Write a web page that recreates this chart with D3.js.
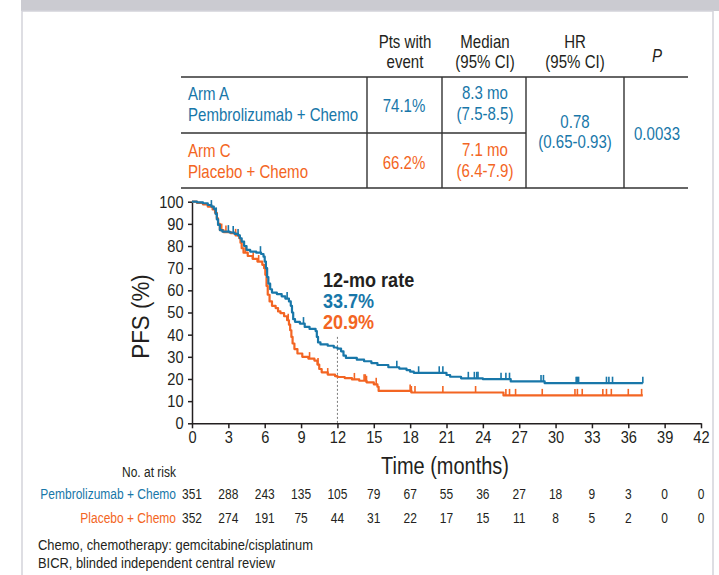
<!DOCTYPE html>
<html>
<head>
<meta charset="utf-8">
<script src="https://cdn.jsdelivr.net/npm/d3@7"></script>
<style>
  html, body { margin: 0; padding: 0; background: #fff; }
  svg { display: block; }
  text { font-family: "Liberation Sans", Arial, Helvetica, sans-serif; }
</style>
</head>
<body>
<svg id="chart" width="719" height="575"></svg>
<script>
// ---- Data -------------------------------------------------------------
const months = [0, 3, 6, 9, 12, 15, 18, 21, 24, 27, 30, 33, 36, 39, 42];
const pfsTicks = [0, 10, 20, 30, 40, 50, 60, 70, 80, 90, 100];

const armLabels = ["Pembrolizumab + Chemo", "Placebo + Chemo"];
const armTitles = ["Arm A", "Arm C"];
const ptsWithEvent = ["74.1%", "66.2%"];
const medianPFS = ["8.3 mo", "7.1 mo"];
const medianCI = ["(7.5-8.5)", "(6.4-7.9)"];
const hazardRatio = ["0.78", "(0.65-0.93)"];
const pValue = "0.0033";
const rate12mo = [33.7, 20.9];

const pembroAtRisk = [351, 288, 243, 135, 105, 79, 67, 55, 36, 27, 18, 9, 3, 0, 0];
const placeboAtRisk = [352, 274, 191, 75, 44, 31, 22, 17, 15, 11, 8, 5, 2, 0, 0];

// Kaplan-Meier steps: [month, PFS %]
const pembroKM = [
  [0,100],[0.4,99.7],[0.9,99.3],[1.3,98.5],[1.6,97.8],[1.8,96.8],[1.95,94.5],[2.05,92],
  [2.15,89.5],[2.3,87.2],[2.5,86.5],[3.1,86.1],[3.5,85.5],[3.8,84.8],[3.95,83.5],[4.1,82],
  [4.3,80],[4.5,78.3],[4.8,77.5],[5.3,77],[5.7,76.4],[5.9,75.2],[6.0,73],[6.1,70],
  [6.2,66],[6.3,63],[6.45,60.5],[6.6,59],[7.0,58.3],[7.4,57.3],[7.7,56.3],[8.0,55],
  [8.15,53],[8.25,50],[8.35,47],[8.5,45.8],[8.9,45],[9.3,43.5],[9.7,42.6],[10.2,41.6],
  [10.3,39],[10.4,36.5],[10.6,35.6],[11.2,35],[11.7,34.2],[12.0,33.7],[12.3,32.5],
  [12.5,30.5],[12.7,29.5],[13.6,28.7],[14.2,28],[14.8,27.2],[15.3,26.3],[16.2,25.3],
  [17.1,24.7],[17.7,24],[18.0,23.3],[18.3,22.8],[21.0,21.8],[21.3,21.0],[22.2,20.3],
  [24.0,19.9],[26.3,18.9],[29.1,18.1],[37.2,18.1]
];
const placeboKM = [
  [0,100],[0.4,99.5],[0.9,98.8],[1.3,97.8],[1.7,96.5],[1.9,95],[2.05,92.5],[2.15,90],
  [2.3,87.2],[2.6,86.3],[3.2,85.8],[3.6,84.8],[3.9,83.5],[4.0,81.5],[4.1,79],[4.25,77],
  [4.6,75.5],[5.0,74.2],[5.4,73],[5.8,71.5],[5.95,70],[6.05,67],[6.15,62],[6.25,58],
  [6.4,55],[6.6,53],[6.9,52],[7.1,50.5],[7.3,49.7],[7.6,48.3],[7.85,46.5],[8.0,44.5],
  [8.1,42],[8.2,39],[8.3,36],[8.45,33.5],[8.7,31.5],[9.1,30],[9.6,29.2],[10.1,28.3],
  [10.35,26.5],[10.5,24.5],[10.7,23],[11.2,22],[11.8,21.3],[12.0,20.9],[12.6,20.4],
  [13.2,19.8],[13.8,19.2],[14.4,18.5],[15.0,17.6],[15.3,16.5],[15.4,14.6],[18.1,13.9],
  [25.7,12.6],[37.2,12.6]
];

// Censored observations (months)
const pembroCensored = [1.6, 2.0, 3.0, 3.4, 3.8, 5.65, 7.85, 9.2, 16.9, 18.7, 20.4, 20.7,
  22.8, 23.3, 23.5, 23.6, 25.5, 25.9, 26.2, 28.8, 29.0, 31.7, 31.8, 31.9, 34.2, 34.4, 34.7, 37.2];
const placeboCensored = [2.45, 2.8, 3.6, 4.4, 5.05, 5.5, 7.94, 9.7, 10.4, 11.2, 13.4, 14.2,
  14.3, 14.4, 15.2, 18.0, 18.1, 18.4, 20.7, 23.4, 25.9, 26.2, 26.7, 28.9, 31.6, 31.8, 32.2,
  33.9, 34.2, 34.6, 36.0, 37.1];

// ---- Styling ----------------------------------------------------------
const BLUE = "#1877a9";
const ORANGE = "#f36523";
const INK = "#231f20";

const svg = d3.select("#chart");

// Condensed text: horizontally squeezed glyphs around the anchor point
function cText(parent, x, y, str, o) {
  const g = parent.append("g").attr("transform", `translate(${x},${y}) scale(${o.sx},1)`);
  const t = g.append("text").attr("text-anchor", o.anchor || "start")
    .attr("font-size", o.size).attr("fill", o.fill || INK).text(str);
  if (o.weight) t.attr("font-weight", o.weight);
  if (o.italic) t.attr("font-style", "italic");
  return t;
}

// page frame: grey band and bordered white panel
svg.append("rect").attr("x", 21).attr("y", 0).attr("width", 698).attr("height", 11).attr("fill", "#cbcbd1");
svg.append("rect").attr("x", 22).attr("y", 11).attr("width", 691).attr("height", 570)
  .attr("fill", "#fff").attr("stroke", "#d3d3da").attr("stroke-width", 1.5);

// ---- Summary table ----------------------------------------------------
const tbl = svg.append("g").attr("class", "summary-table");
const T = { size: 17.5, sx: 0.86 };
const lineColor = "#333";
const hl = [[77, 181, 688], [133, 181, 526], [188, 181, 688]];
hl.forEach(([yy, x1, x2]) => tbl.append("line").attr("x1", x1).attr("x2", x2).attr("y1", yy).attr("y2", yy)
  .attr("stroke", lineColor).attr("stroke-width", 1.4));
[367, 442, 526, 624].forEach(xx => tbl.append("line").attr("x1", xx).attr("x2", xx).attr("y1", 77).attr("y2", 188)
  .attr("stroke", lineColor).attr("stroke-width", 1.4));

function tText(x, y, str, color, anchor = "middle", italic = false) {
  return cText(tbl, x, y, str, { size: T.size, sx: T.sx, anchor, fill: color, italic });
}
// header
tText(405, 48, "Pts with", INK); tText(405, 68, "event", INK);
tText(485, 48, "Median", INK); tText(485, 68, "(95% CI)", INK);
tText(575, 48, "HR", INK); tText(575, 68, "(95% CI)", INK);
tText(657, 62, "P", INK, "middle", true);
// arm rows
const rowColors = [BLUE, ORANGE];
const rowBase = [100, 157];
rowColors.forEach((c, i) => {
  const b = rowBase[i];
  tText(188, b, armTitles[i], c, "start");
  tText(188, b + 21, armLabels[i], c, "start");
  tText(404, b + 12, ptsWithEvent[i], c);
  tText(485, b - 1, medianPFS[i], c);
  tText(485, b + 20, medianCI[i], c);
});
tText(575, 128, hazardRatio[0], BLUE);
tText(575, 148, hazardRatio[1], BLUE);
tText(657, 140, pValue, BLUE);

// ---- Plot -------------------------------------------------------------
const x = d3.scaleLinear().domain([0, 42]).range([192, 701]);
const y = d3.scaleLinear().domain([0, 100]).range([423.3, 201.7]);

const AX = { size: 17, sx: 0.86 };
const xAxis = svg.append("g").attr("transform", `translate(0,${y(0)})`)
  .call(d3.axisBottom(x).tickValues(months).tickSize(5).tickSizeOuter(0).tickPadding(3));
const yAxis = svg.append("g").attr("transform", `translate(${x(0)},0)`)
  .call(d3.axisLeft(y).tickValues(pfsTicks).tickSize(4).tickSizeOuter(0).tickPadding(3));
[xAxis, yAxis].forEach(a => {
  a.attr("font-family", null).attr("font-size", null);
  a.select(".domain").attr("stroke", INK).attr("stroke-width", 1.5);
  a.selectAll(".tick line").attr("stroke", INK).attr("stroke-width", 1.5);
  a.selectAll(".tick text").attr("fill", INK).attr("font-size", AX.size)
    .attr("transform", `scale(${AX.sx},1)`);
});
yAxis.selectAll(".tick text").attr("x", -8.5 / AX.sx);

// axis titles
cText(svg, 445, 474, "Time (months)", { size: 23.5, sx: 0.85, anchor: "middle" });
svg.append("g").attr("transform", `translate(149,${(y(0) + y(100)) / 2 + 4}) rotate(-90) scale(0.95,1)`)
  .append("text").attr("text-anchor", "middle").attr("font-size", 23.5).attr("fill", INK).text("PFS (%)");

// 12-month reference line
svg.append("line").attr("x1", x(12)).attr("x2", x(12)).attr("y1", y(39)).attr("y2", y(0))
  .attr("stroke", "#7a7a7a").attr("stroke-width", 1).attr("stroke-dasharray", "2,2");

// KM curves
const km = d3.line().x(d => x(d[0])).y(d => y(d[1])).curve(d3.curveStepAfter);
const bis = d3.bisector(d => d[0]).right;
function survAt(curve, t) { return curve[Math.max(0, bis(curve, t) - 1)][1]; }

function drawArm(curve, censored, color) {
  const g = svg.append("g");
  g.append("path").datum(curve).attr("d", km).attr("fill", "none")
    .attr("stroke", color).attr("stroke-width", 2.2).attr("stroke-linejoin", "round");
  g.selectAll("line.cens").data(censored).join("line").attr("class", "cens")
    .attr("x1", d => x(d)).attr("x2", d => x(d))
    .attr("y1", d => y(survAt(curve, d)))
    .attr("y2", d => y(survAt(curve, d)) - 6.5)
    .attr("stroke", color).attr("stroke-width", 1.6);
}
drawArm(placeboKM, placeboCensored, ORANGE);
drawArm(pembroKM, pembroCensored, BLUE);

// 12-month rate annotation
const ann = svg.append("g");
const A = { size: 20.5, sx: 0.88, weight: "bold" };
cText(ann, 323, 287, "12-mo rate", { ...A, fill: INK });
cText(ann, 323, 308, rate12mo[0].toFixed(1) + "%", { ...A, fill: BLUE });
cText(ann, 323, 329, rate12mo[1].toFixed(1) + "%", { ...A, fill: ORANGE });

// ---- Number at risk ---------------------------------------------------
const risk = svg.append("g");
const R = { size: 15, sx: 0.8 };
cText(risk, 176, 477, "No. at risk", { ...R, anchor: "end" });
[[pembroAtRisk, BLUE, 499], [placeboAtRisk, ORANGE, 523]].forEach(([vals, c, yy], i) => {
  cText(risk, 176, yy, armLabels[i], { ...R, anchor: "end", fill: c });
  vals.forEach((v, j) => cText(risk, x(months[j]), yy, String(v), { ...R, anchor: "middle" }));
});

// footnotes
const foot = svg.append("g");
cText(foot, 38, 550, "Chemo, chemotherapy: gemcitabine/cisplatinum", { size: 15, sx: 0.86 });
cText(foot, 38, 568, "BICR, blinded independent central review", { size: 15, sx: 0.86 });
</script>
</body>
</html>
